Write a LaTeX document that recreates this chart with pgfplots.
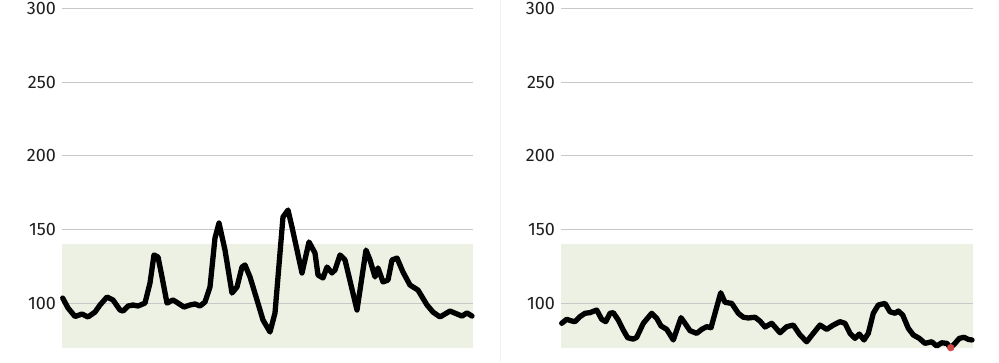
\documentclass[border=0pt]{standalone}
\usepackage{pgfplots}
\pgfplotsset{compat=1.18}
\usepackage{fontspec}
\setmainfont{Fira Sans}
\definecolor{bandgreen}{RGB}{237,241,228}
\definecolor{gridgray}{RGB}{200,200,200}
\definecolor{labelgray}{RGB}{30,30,30}
\definecolor{markred}{RGB}{210,70,70}
\pgfplotsset{
  panel/.style={
    set layers,
    anchor=south west,
    scale only axis,
    height=339.5pt,
    ymin=70, ymax=300,
    ytick={100,150,200,250,300},
    xtick=\empty,
    axis line style={draw=none},
    major tick length=0pt,
    ymajorgrids,
    grid style={gridgray, line width=0.9pt},
    yticklabel style={font=\fontsize{18}{21}\selectfont, text=labelgray, xshift=-2.5pt},
    /pgf/number format/assume math mode=true,
    clip=false,
  },
  dataline/.style={black, line width=5.3pt, line join=round, line cap=round},
}
\begin{document}
\begin{tikzpicture}
\draw[gray!12, line width=0.8pt] (500.5pt,0pt) -- (500.5pt,362pt);
\begin{axis}[panel, at={(62pt,14.2pt)}, width=411pt, xmin=62, xmax=473]
\begin{pgfonlayer}{axis background}
\fill[bandgreen] (axis cs:62,70) rectangle (axis cs:473,140);
\end{pgfonlayer}
\addplot[dataline] coordinates {
(62.7,103.7)(68,97.0)(75,91.2)(82,92.9)(88,90.9)(95,94.2)(100,99.0)(107,104.4)
(113,102.4)(120,95.6)(123,94.9)(128,98.3)(133,99.0)(138,98.3)(145,100.3)(150,113.9)
(154,132.9)(158,131.5)(162,118.0)(167,100.3)(173,102.4)(178,100.3)(184,97.6)(190,99.0)
(195,99.7)(200,98.3)(205,101.0)(210,111.2)(215,144.4)(219,154.5)(225,136.2)(232,107.1)
(237,111.2)(242,124.7)(245,126.1)(250,118.0)(257,102.4)(263,88.8)(270,80.7)(275,93.6)
(283,158.6)(288,163.3)(292,151.8)(302,120.7)(309,141.7)(315,134.2)(318,119.3)(323,117.3)
(327,124.7)(332,120.7)(335,122.7)(340,132.9)(345,129.5)(357,95.6)(366,136.2)(370,129.5)
(375,118.0)(378,124.1)(383,114.6)(388,115.9)(392,129.5)(397,130.8)(403,121.3)(410,112.5)
(418,109.1)(427,99.0)(433,94.2)(440,90.9)(450,94.9)(457,92.9)(462,91.5)(467,93.6)(472,91.5)
};
\end{axis}
\begin{axis}[panel, at={(561pt,14.2pt)}, width=412pt, xmin=561, xmax=973]
\begin{pgfonlayer}{axis background}
\fill[bandgreen] (axis cs:561,70) rectangle (axis cs:973,140);
\end{pgfonlayer}
\addplot[dataline] coordinates {
(561.7,86.6)(566.7,89.3)(571,88.3)(575,87.7)(580,91.1)(585,93.4)(590,93.8)(596.7,95.6)
(601.7,89.3)(605.7,87.7)(610,93.4)(613.3,93.8)(618.3,88.8)(623.3,82.0)(627.7,76.8)(633.3,75.9)
(636.7,77.1)(643.3,86.6)(651.7,93.4)(656.7,90.0)(661,84.8)(666.7,82.5)(673.3,75.3)(676.7,82.0)
(681,90.4)(685,86.6)(690,81.6)(696.7,79.8)(701.7,82.5)(706.7,84.3)(711,83.6)(715,93.4)
(720.7,107.3)(725,100.8)(731.7,100.1)(738.3,93.4)(743.3,90.7)(748.3,90.2)(755,90.7)(760,88.1)
(765,84.1)(771.7,86.6)(780,80.2)(786.7,84.3)(793.3,85.4)(800,78.7)(806.7,74.1)(813.3,79.8)
(820,85.4)(826.7,82.5)(833.3,85.4)(840,87.7)(845,86.6)(850,79.8)(855,76.4)(859.3,79.3)
(864,75.3)(868.3,79.8)(873.3,93.4)(878.3,99.0)(885,100.1)(890,94.4)(895,93.4)(898.3,94.9)
(902.7,92.2)(908.3,83.2)(913.3,78.7)(919.3,76.4)(925,73.0)(931.7,74.1)(936.7,71.2)(941.7,73.4)
(946.7,73.0)(950.7,70.1)(955,73.0)(959.3,76.4)(964,77.1)(968.3,75.7)(972,75.3)
};
\addplot[only marks, mark=*, mark size=3.4pt, color=markred] coordinates {(950.7,70.1)};
\end{axis}
\pgfresetboundingbox
\path[use as bounding box] (0pt,0pt) rectangle (999pt,362pt);
\end{tikzpicture}
\end{document}
